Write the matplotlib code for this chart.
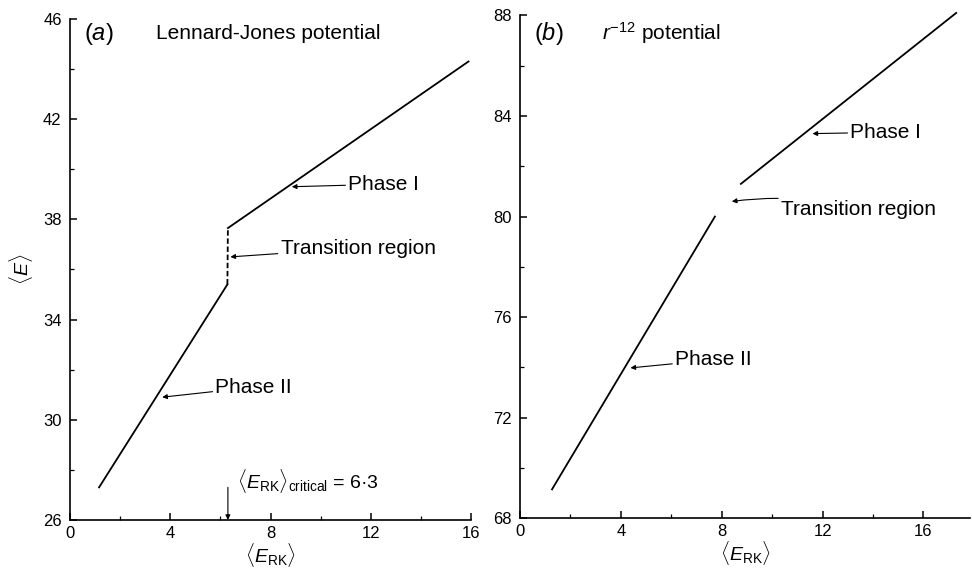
import numpy as np
import matplotlib.pyplot as plt
from matplotlib.ticker import MultipleLocator

plt.rcParams['font.family'] = ['Liberation Sans', 'DejaVu Sans']
plt.rcParams['mathtext.fontset'] = 'custom'
plt.rcParams['mathtext.rm'] = 'Liberation Sans'
plt.rcParams['mathtext.it'] = 'Liberation Sans:italic'

# Panel (a): Lennard-Jones potential
phase2_a_x = [1.16, 6.28]
phase2_a_y = [27.3, 35.4]
trans_a_x = [6.28, 6.3]
trans_a_y = [35.4, 37.65]
phase1_a_x = [6.3, 15.9]
phase1_a_y = [37.65, 44.3]
critical_a = 6.3

# Panel (b): r^-12 potential
phase2_b_x = [1.27, 7.73]
phase2_b_y = [69.15, 80.0]
phase1_b_x = [8.76, 17.3]
phase1_b_y = [81.3, 88.1]

xticks = [0, 4, 8, 12, 16]
yticks_a = [26, 30, 34, 38, 42, 46]
yticks_b = [68, 72, 76, 80, 84, 88]

fig = plt.figure(figsize=(9.72, 5.72), dpi=100)
ax1 = fig.add_axes([0.072, 0.091, 0.4126, 0.876])
ax2 = fig.add_axes([0.535, 0.094, 0.463, 0.879])

arrow = dict(arrowstyle='-|>', lw=0.8, color='black', mutation_scale=7, shrinkA=0, shrinkB=0)
txt = dict(fontsize=15, va='center', ha='left')


def style(ax, xlim, ylim, yticks):
    ax.set_xlim(*xlim)
    ax.set_ylim(*ylim)
    ax.set_xticks(xticks)
    ax.set_yticks(yticks)
    ax.xaxis.set_minor_locator(MultipleLocator(2))
    ax.yaxis.set_minor_locator(MultipleLocator(2))
    for s in ['top', 'right']:
        ax.spines[s].set_visible(False)
    for s in ['left', 'bottom']:
        ax.spines[s].set_linewidth(1.2)
    ax.tick_params(which='major', direction='in', length=5, width=1.1, labelsize=12, pad=6)
    ax.tick_params(axis='x', which='major', pad=4)
    ax.tick_params(which='minor', direction='in', length=3, width=0.9)
    ax.set_xlabel(r'$\langle E_{\mathrm{RK}}\rangle$', fontsize=14, labelpad=0)


style(ax1, (0, 16), (26, 46), yticks_a)
ax1.set_ylabel(r'$\langle E\rangle$', fontsize=14, labelpad=6)
ax1.plot(phase2_a_x, phase2_a_y, color='black', lw=1.3)
ax1.plot(trans_a_x, trans_a_y, color='black', lw=1.3, ls=(0, (3, 1.5)))
ax1.plot(phase1_a_x, phase1_a_y, color='black', lw=1.3)
ax1.text(0.55, 45.4, r'$(\mathit{a})$', fontsize=17, va='center')
ax1.text(3.45, 45.4, 'Lennard-Jones potential', **txt)
ax1.annotate('Phase I', xy=(8.85, 39.3), xytext=(11.1, 39.4), textcoords='data',
             arrowprops=arrow, **txt)
ax1.annotate('Transition region', xy=(6.4, 36.5), xytext=(8.4, 36.85),
             arrowprops=arrow, **txt)
ax1.annotate('Phase II', xy=(3.68, 30.9), xytext=(5.8, 31.3),
             arrowprops=arrow, **txt)
ax1.annotate('', xy=(critical_a, 26.0), xytext=(critical_a, 27.3), arrowprops=arrow)
ax1.text(6.65, 27.55, r'$\langle E_{\mathrm{RK}}\rangle_{\mathrm{critical}}$ = 6·3',
         fontsize=14, va='center', ha='left')

style(ax2, (0, 17.85), (68, 88), yticks_b)
ax2.plot(phase2_b_x, phase2_b_y, color='black', lw=1.3, clip_on=False)
ax2.plot(phase1_b_x, phase1_b_y, color='black', lw=1.3, clip_on=False)
ax2.text(0.55, 87.3, r'$(\mathit{b})$', fontsize=17, va='center')
ax2.text(3.25, 87.3, r'$r^{-12}$ potential', **txt)
ax2.annotate('Phase I', xy=(11.6, 83.3), xytext=(13.1, 83.35),
             arrowprops=arrow, **txt)
ax2.annotate('Transition region', xy=(8.4, 80.6), xytext=(10.35, 80.3),
             arrowprops=dict(arrow, connectionstyle='arc3,rad=0.1'), **txt)
ax2.annotate('Phase II', xy=(4.38, 73.98), xytext=(6.15, 74.3),
             arrowprops=arrow, **txt)

fig.savefig('out.png', dpi=100)
